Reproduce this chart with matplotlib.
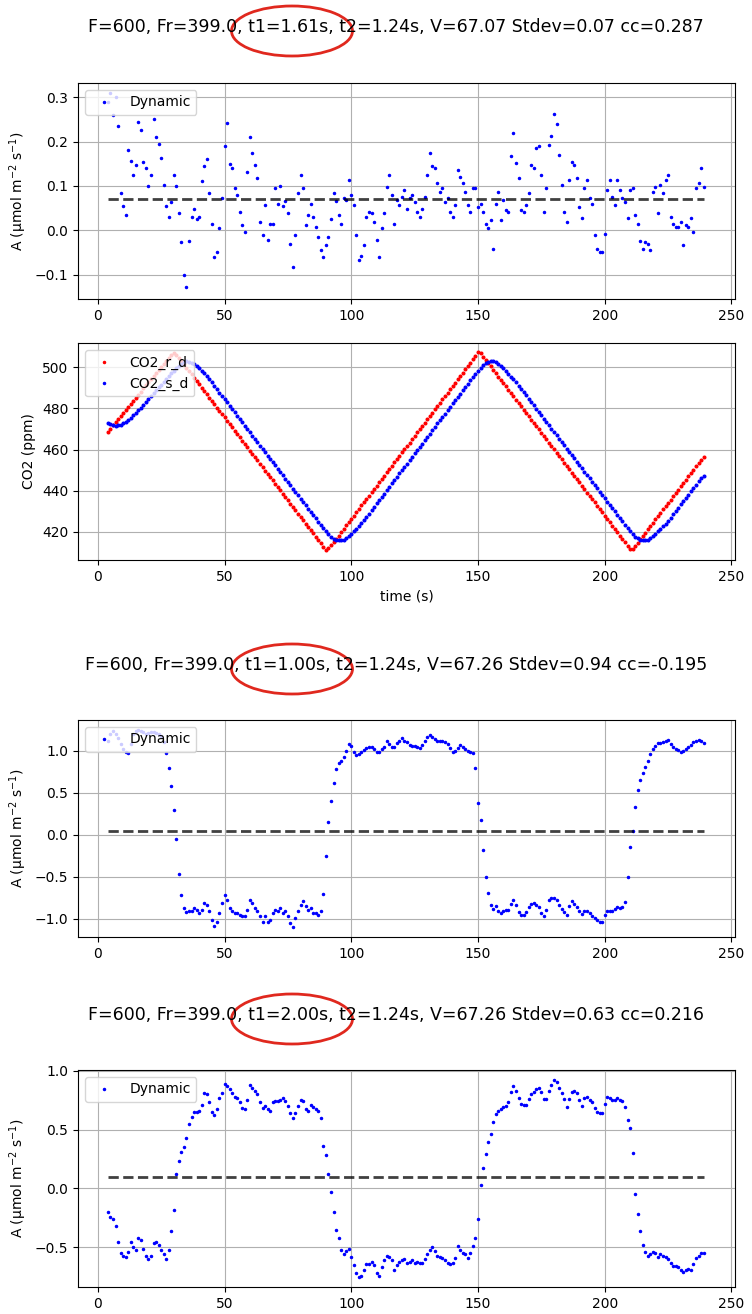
import numpy as np
import matplotlib
matplotlib.use('Agg')
import matplotlib.pyplot as plt
from matplotlib.patches import Ellipse

# time axis (s), one sample per second
t = np.arange(4, 240)

# panel 1: A, t1=1.61s
a1 = [0.29, 0.31, 0.26, 0.30, 0.236, 0.083, 0.055, 0.035, 0.18, 0.157,
      0.125, 0.148, 0.245, 0.226, 0.155, 0.14, 0.10, 0.125, 0.25, 0.21,
      0.195, 0.163, 0.102, 0.055, 0.03, 0.064, 0.125, 0.10, 0.04, -0.027,
      -0.1, -0.128, -0.024, 0.03, 0.049, 0.025, 0.03, 0.11, 0.144, 0.16,
      0.083, 0.015, -0.06, -0.05, 0.004, 0.072, 0.19, 0.242, 0.15, 0.14,
      0.095, 0.08, 0.042, 0.011, -0.004, 0.132, 0.21, 0.174, 0.148, 0.117,
      0.019, -0.01, 0.057, -0.023, 0.015, 0.015, 0.095, 0.06, 0.10, 0.055,
      0.065, 0.038, -0.03, -0.083, -0.011, 0.083, 0.125, 0.095, 0.011, 0.034,
      0.06, 0.03, 0.008, -0.015, -0.045, -0.06, -0.034, -0.015, 0.026, 0.083,
      0.065, 0.034, 0.015, 0.072, 0.068, 0.113, 0.08, 0.057, -0.011, -0.068,
      -0.057, -0.034, 0.03, 0.042, 0.038, 0.019, -0.023, -0.06, 0.004, 0.038,
      0.098, 0.125, 0.08, 0.015, 0.068, 0.057, 0.076, 0.09, 0.049, 0.072,
      0.08, 0.064, 0.042, 0.03, 0.049, 0.076, 0.125, 0.174, 0.144, 0.14,
      0.106, 0.087, 0.095, 0.064, 0.072, 0.042, 0.03, 0.057, 0.136, 0.121,
      0.106, 0.087, 0.057, 0.042, 0.095, 0.095, 0.053, 0.06, 0.042, 0.015,
      0.004, 0.023, -0.042, 0.06, 0.087, 0.023, 0.068, 0.045, 0.042, 0.167,
      0.22, 0.152, 0.117, 0.045, 0.042, 0.057, 0.083, 0.148, 0.14, 0.186,
      0.19, 0.125, 0.042, 0.095, 0.193, 0.212, 0.261, 0.24, 0.17, 0.102,
      0.042, 0.019, 0.114, 0.155, 0.148, 0.117, 0.053, 0.027, 0.095, 0.114,
      0.072, 0.06, -0.011, -0.042, -0.049, -0.049, -0.008, 0.09, 0.114, 0.076,
      0.057, 0.114, 0.09, 0.072, 0.064, 0.027, 0.09, 0.095, 0.034, 0.015,
      -0.025, -0.042, -0.027, -0.03, -0.045, 0.087, 0.098, 0.038, 0.102, 0.083,
      0.114, 0.125, 0.03, 0.015, 0.008, 0.008, 0.019, -0.034, 0.011, 0.008,
      0.027, -0.004, 0.095, 0.106, 0.14, 0.098]
a1_mean = 0.07

# panel 2: CO2 reference and sample (ppm)
co2_r = [468.7, 470.2, 471.7, 473.2, 474.7, 476.2, 477.7, 479.2, 480.7, 482.2,
         483.7, 485.2, 486.7, 488.2, 489.7, 491.2, 492.7, 494.2, 495.7, 497.2,
         498.7, 500.2, 501.7, 503.2, 504.6, 506.0, 507.0, 506.2, 504.6, 503.0,
         501.4, 499.8, 498.2, 496.5, 494.9, 493.3, 491.7, 490.1, 488.5, 486.9,
         485.3, 483.7, 482.0, 480.4, 478.8, 477.2, 475.6, 474.0, 472.4, 470.8,
         469.2, 467.5, 465.9, 464.3, 462.7, 461.1, 459.5, 457.9, 456.3, 454.7,
         453.0, 451.4, 449.8, 448.2, 446.6, 445.0, 443.4, 441.8, 440.2, 438.5,
         436.9, 435.3, 433.7, 432.1, 430.5, 428.9, 427.3, 425.7, 424.0, 422.4,
         420.8, 419.2, 417.6, 416.0, 414.4, 412.6, 411.3, 411.9, 413.4, 415.0,
         416.6, 418.2, 419.9, 421.5, 423.1, 424.7, 426.3, 427.9, 429.5, 431.2,
         432.8, 434.4, 436.0, 437.6, 439.2, 440.8, 442.5, 444.1, 445.7, 447.3,
         448.9, 450.5, 452.1, 453.8, 455.4, 457.0, 458.6, 460.2, 461.8, 463.4,
         465.1, 466.7, 468.3, 469.9, 471.5, 473.1, 474.7, 476.4, 478.0, 479.6,
         481.2, 482.8, 484.4, 486.0, 487.7, 489.3, 490.9, 492.5, 494.1, 495.7,
         497.3, 499.0, 500.6, 502.2, 503.8, 505.6, 507.4, 506.8, 505.2, 503.6,
         502.0, 500.4, 498.8, 497.1, 495.5, 493.9, 492.3, 490.7, 489.1, 487.5,
         485.9, 484.3, 482.6, 481.0, 479.4, 477.8, 476.2, 474.6, 473.0, 471.4,
         469.8, 468.1, 466.5, 464.9, 463.3, 461.7, 460.1, 458.5, 456.9, 455.3,
         453.6, 452.0, 450.4, 448.8, 447.2, 445.6, 444.0, 442.4, 440.8, 439.1,
         437.5, 435.9, 434.3, 432.7, 431.1, 429.5, 427.9, 426.3, 424.6, 423.0,
         421.4, 419.8, 418.2, 416.6, 415.0, 413.2, 411.5, 411.6, 413.2, 414.8,
         416.4, 418.0, 419.6, 421.2, 422.8, 424.4, 426.0, 427.7, 429.3, 430.9,
         432.5, 434.1, 435.7, 437.3, 438.9, 440.5, 442.1, 443.7, 445.3, 446.9,
         448.5, 450.1, 451.8, 453.4, 455.0, 456.6]
co2_s = [472.8, 472.2, 471.8, 471.6, 471.7, 472.1, 472.8, 473.6, 474.5, 475.5,
         476.6, 477.8, 479.1, 480.4, 481.8, 483.2, 484.6, 486.0, 487.4, 488.8,
         490.2, 491.6, 493.0, 494.4, 495.8, 497.1, 498.4, 499.6, 500.7, 501.8,
         502.6, 503.0, 502.8, 502.1, 501.8, 500.8, 499.6, 498.3, 497.4, 495.8,
         494.2, 492.6, 490.9, 489.3, 487.7, 486.1, 484.5, 482.9, 481.3, 479.7,
         478.1, 476.4, 474.8, 473.2, 471.6, 470.0, 468.4, 466.8, 465.2, 463.5,
         461.9, 460.3, 458.7, 457.1, 455.5, 453.9, 452.3, 450.6, 449.0, 447.4,
         445.8, 444.2, 442.6, 441.0, 439.4, 437.7, 436.1, 434.5, 432.9, 431.3,
         429.7, 428.1, 426.5, 424.9, 423.3, 421.7, 420.2, 418.8, 417.6, 416.7,
         416.1, 415.8, 415.8, 416.1, 416.8, 417.8, 419.0, 420.3, 421.6, 423.0,
         424.4, 425.9, 427.4, 428.9, 430.5, 432.2, 433.8, 435.4, 437.0, 438.6,
         440.3, 441.9, 443.5, 445.1, 446.7, 448.4, 450.0, 451.6, 453.2, 454.8,
         456.5, 458.1, 459.7, 461.3, 462.9, 464.6, 466.2, 467.8, 469.4, 471.0,
         472.7, 474.3, 475.9, 477.5, 479.1, 480.8, 482.4, 484.0, 485.6, 487.2,
         488.9, 490.5, 492.1, 493.7, 495.3, 496.9, 498.4, 499.8, 501.0, 501.9,
         502.6, 503.0, 503.0, 502.6, 501.8, 500.8, 499.6, 498.3, 496.9, 495.5,
         494.1, 492.6, 491.1, 489.5, 487.9, 486.3, 484.7, 483.1, 481.5, 479.8,
         478.2, 476.6, 475.0, 473.4, 471.8, 470.2, 468.6, 467.0, 465.3, 463.7,
         462.1, 460.5, 458.9, 457.3, 455.7, 454.1, 452.5, 450.8, 449.2, 447.6,
         446.0, 444.4, 442.8, 441.2, 439.6, 437.9, 436.3, 434.7, 433.1, 431.5,
         429.9, 428.3, 426.7, 425.1, 423.4, 421.8, 420.3, 418.9, 417.7, 416.8,
         416.2, 415.9, 415.8, 416.1, 416.8, 417.8, 419.0, 420.3, 421.3, 422.7,
         424.0, 425.5, 426.9, 428.5, 430.1, 431.7, 433.3, 434.9, 436.5, 438.1,
         439.7, 441.3, 442.9, 444.5, 446.1, 447.3]

# panel 3: A, t1=1.00s
a3 = [1.12, 1.20, 1.23, 1.20, 1.15, 1.08, 1.02, 0.99, 0.97, 1.08,
      1.20, 1.23, 1.25, 1.24, 1.22, 1.20, 1.21, 1.22, 1.22, 1.21,
      1.20, 1.17, 1.10, 0.97, 0.80, 0.58, 0.30, -0.05, -0.47, -0.72,
      -0.87, -0.92, -0.90, -0.90, -0.87, -0.89, -0.93, -0.89, -0.81, -0.83,
      -0.91, -1.01, -1.08, -1.03, -0.93, -0.81, -0.71, -0.77, -0.87, -0.90,
      -0.93, -0.93, -0.95, -0.97, -0.97, -0.89, -0.77, -0.81, -0.87, -0.91,
      -0.97, -1.03, -0.97, -1.03, -1.01, -0.93, -0.89, -0.91, -0.87, -0.93,
      -0.91, -0.97, -1.05, -1.09, -0.99, -0.91, -0.83, -0.79, -0.85, -0.89,
      -0.87, -0.93, -0.93, -0.95, -0.91, -0.70, -0.25, 0.15, 0.40, 0.62,
      0.78, 0.85, 0.88, 0.92, 1.00, 1.08, 1.06, 0.99, 0.95, 0.96,
      0.98, 1.01, 1.03, 1.05, 1.04, 1.02, 0.99, 0.98, 1.02, 1.05,
      1.11, 1.08, 1.05, 1.04, 1.09, 1.12, 1.15, 1.12, 1.10, 1.07,
      1.06, 1.06, 1.04, 1.03, 1.07, 1.11, 1.16, 1.19, 1.16, 1.14,
      1.12, 1.11, 1.11, 1.10, 1.08, 1.03, 0.99, 1.00, 1.03, 1.07,
      1.05, 1.02, 1.00, 0.99, 0.97, 0.80, 0.38, 0.18, -0.18, -0.50,
      -0.69, -0.83, -0.88, -0.84, -0.90, -0.93, -0.91, -0.89, -0.89, -0.82,
      -0.77, -0.83, -0.92, -0.95, -0.95, -0.92, -0.86, -0.82, -0.81, -0.83,
      -0.86, -0.93, -0.96, -0.89, -0.78, -0.75, -0.75, -0.77, -0.83, -0.88,
      -0.92, -0.95, -0.85, -0.79, -0.82, -0.86, -0.91, -0.94, -0.90, -0.91,
      -0.93, -0.96, -0.99, -1.01, -1.04, -1.04, -0.95, -0.90, -0.91, -0.91,
      -0.88, -0.86, -0.87, -0.86, -0.80, -0.50, -0.15, 0.05, 0.33, 0.53,
      0.65, 0.73, 0.81, 0.88, 0.96, 1.02, 1.06, 1.09, 1.09, 1.10,
      1.11, 1.13, 1.08, 1.04, 1.02, 1.01, 0.99, 1.00, 1.02, 1.05,
      1.07, 1.10, 1.12, 1.13, 1.11, 1.09]
a3_mean = 0.05

# panel 4: A, t1=2.00s
a4 = [-0.20, -0.24, -0.26, -0.32, -0.45, -0.55, -0.57, -0.58, -0.54, -0.45,
      -0.50, -0.52, -0.42, -0.44, -0.51, -0.57, -0.60, -0.57, -0.46, -0.45,
      -0.48, -0.52, -0.56, -0.60, -0.52, -0.36, -0.18, 0.12, 0.23, 0.31,
      0.35, 0.43, 0.55, 0.61, 0.65, 0.65, 0.66, 0.71, 0.81, 0.80,
      0.73, 0.65, 0.62, 0.67, 0.77, 0.81, 0.89, 0.87, 0.84, 0.81,
      0.78, 0.77, 0.73, 0.68, 0.67, 0.75, 0.88, 0.85, 0.83, 0.80,
      0.73, 0.68, 0.70, 0.67, 0.66, 0.73, 0.74, 0.74, 0.75, 0.77,
      0.74, 0.70, 0.64, 0.60, 0.64, 0.70, 0.75, 0.74, 0.67, 0.66,
      0.71, 0.69, 0.67, 0.66, 0.60, 0.36, 0.28, 0.12, -0.03, -0.20,
      -0.35, -0.42, -0.52, -0.56, -0.53, -0.51, -0.58, -0.65, -0.72, -0.75,
      -0.74, -0.69, -0.64, -0.64, -0.62, -0.65, -0.72, -0.74, -0.67, -0.61,
      -0.57, -0.58, -0.61, -0.69, -0.65, -0.62, -0.61, -0.60, -0.63, -0.62,
      -0.61, -0.63, -0.62, -0.63, -0.63, -0.60, -0.56, -0.52, -0.50, -0.53,
      -0.57, -0.58, -0.59, -0.61, -0.63, -0.64, -0.63, -0.59, -0.49, -0.52,
      -0.55, -0.56, -0.59, -0.55, -0.49, -0.42, -0.26, 0.03, 0.17, 0.29,
      0.39, 0.46, 0.56, 0.63, 0.66, 0.67, 0.69, 0.70, 0.73, 0.82,
      0.87, 0.83, 0.77, 0.72, 0.71, 0.71, 0.76, 0.80, 0.82, 0.84,
      0.85, 0.82, 0.76, 0.76, 0.83, 0.88, 0.92, 0.90, 0.85, 0.81,
      0.76, 0.69, 0.76, 0.82, 0.83, 0.81, 0.75, 0.70, 0.77, 0.78,
      0.75, 0.73, 0.68, 0.65, 0.64, 0.64, 0.72, 0.78, 0.77, 0.75,
      0.75, 0.77, 0.75, 0.74, 0.69, 0.58, 0.51, 0.30, -0.05, -0.22,
      -0.36, -0.48, -0.54, -0.57, -0.56, -0.54, -0.55, -0.58, -0.56, -0.57,
      -0.58, -0.60, -0.63, -0.66, -0.66, -0.67, -0.69, -0.71, -0.69, -0.68,
      -0.69, -0.64, -0.59, -0.57, -0.55, -0.55]
a4_mean = 0.10

titles = ["F=600, Fr=399.0, t1=1.61s, t2=1.24s, V=67.07 Stdev=0.07 cc=0.287",
          "F=600, Fr=399.0, t1=1.00s, t2=1.24s, V=67.26 Stdev=0.94 cc=-0.195",
          "F=600, Fr=399.0, t1=2.00s, t2=1.24s, V=67.26 Stdev=0.63 cc=0.216"]

W, H = 752, 1314
fig = plt.figure(figsize=(W / 100, H / 100), dpi=100)


def add_ax(top, bottom):
    return fig.add_axes([78 / W, 1 - bottom / H, (735 - 78) / W, (bottom - top) / H])


alabel = 'A (µmol m$^{-2}$ s$^{-1}$)'
xlim = (-7.8, 251.4)


def dyn_panel(ax, a, amean, ylim):
    ax.plot(t, a, 'b.', ms=3, label='Dynamic')
    ax.plot([t[0], t[-1]], [amean, amean], 'k--', lw=2, alpha=0.75)
    ax.set_xlim(*xlim)
    ax.set_ylim(*ylim)
    ax.set_ylabel(alabel)
    ax.grid(True)
    ax.legend(loc='upper left')


ax1 = add_ax(83, 299)
dyn_panel(ax1, a1, a1_mean, (-0.155, 0.332))

ax2 = add_ax(343, 560)
ax2.plot(t, co2_r, 'r.', ms=3.8, label='CO2_r_d')
ax2.plot(t, co2_s, 'b.', ms=3.8, label='CO2_s_d')
ax2.set_xlim(*xlim)
ax2.set_ylim(406.3, 511.8)
ax2.set_ylabel('CO2 (ppm)')
ax2.set_xlabel('time (s)')
ax2.grid(True)
ax2.legend(loc='upper left', markerscale=0.8)

ax3 = add_ax(720, 937)
dyn_panel(ax3, a3, a3_mean, (-1.214, 1.365))

ax4 = add_ax(1070, 1287)
dyn_panel(ax4, a4, a4_mean, (-0.836, 1.005))

for ty, txt in zip([27, 665, 1015], titles):
    fig.text(396 / W, 1 - ty / H, txt, ha='center', va='center', fontsize=12.5)
    fig.patches.append(Ellipse((292 / W, 1 - (ty + 4) / H), 121 / W, 50 / H,
                               transform=fig.transFigure, fill=False,
                               edgecolor='#e0281e', lw=2))

fig.savefig('out.png', dpi=100)
